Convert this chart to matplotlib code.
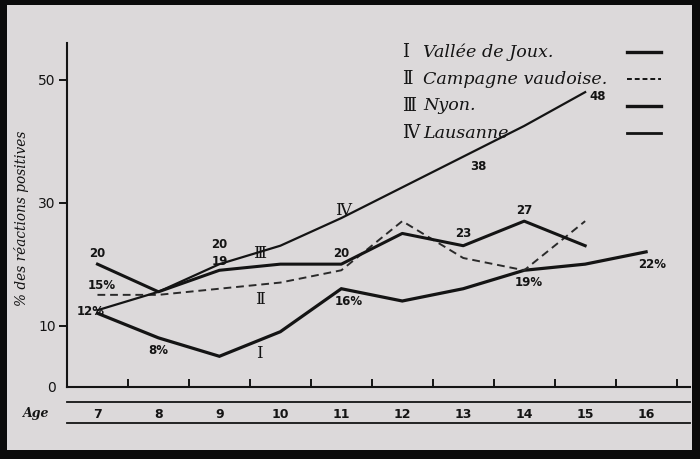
import matplotlib
matplotlib.use("Agg")
import matplotlib.pyplot as plt
from matplotlib.lines import Line2D
from matplotlib.patches import Rectangle

# ---------------- data ----------------
ages = [7, 8, 9, 10, 11, 12, 13, 14, 15, 16]
vallee = [12, 8, 5, 9, 16, 14, 16, 19, 20, 22]          # I  (ages 7-16)
campagne = [15, 15, 16, 17, 19, 27, 21, 19, 27]          # II (ages 7-15)
nyon = [20, 15.5, 19, 20, 20, 25, 23, 27, 23]            # III (ages 7-15)
lausanne = [12.5, 15.5, 20, 23, 27.5, 32.5, 37.5, 42.5, 48]  # IV (ages 7-15)
y_ticks = [0, 10, 30, 50]
numerals = ["Ⅰ", "Ⅱ", "Ⅲ", "Ⅳ"]
names = ["Vallée de Joux.", "Campagne vaudoise.", "Nyon.", "Lausanne"]

# value labels: (text, series, index of age)
label_texts = ["20", "15%", "12%", "8%", "20", "19", "20", "16%",
               "38", "23", "27", "19%", "22%", "48"]
label_series = ["III", "II", "I", "I", "IV", "III", "III", "I",
                "IV", "III", "III", "I", "I", "IV"]
label_idx = [0, 0, 0, 1, 2, 2, 4, 4, 6, 6, 7, 7, 9, 8]

series = {"I": vallee, "II": campagne, "III": nyon, "IV": lausanne}

# ---------------- figure ----------------
W, H = 700, 459
fig = plt.figure(figsize=(7, 4.59), dpi=100, facecolor="#0b0b0b")
paper = Rectangle((7 / W, 1 - 450 / H), (692 - 7) / W, (450 - 5) / H,
                  transform=fig.transFigure, facecolor="#dcd9da",
                  edgecolor="none", zorder=-10)
fig.patches.append(paper)

ax = fig.add_axes([67 / W, 1 - 387 / H, 623 / W, 344 / H])
ax.set_facecolor("none")
ax.set_zorder(1)
ax.set_xlim(6.5, 16.72)
ax.set_ylim(0, 56)
ink = "#141414"

for s in ["top", "right"]:
    ax.spines[s].set_visible(False)
for s in ["left", "bottom"]:
    ax.spines[s].set_linewidth(1.5)
    ax.spines[s].set_color(ink)

# y ticks
ax.set_yticks(y_ticks)
ax.set_yticklabels([str(v) for v in y_ticks], fontsize=10,
                   family="DejaVu Sans", color=ink)
ax.tick_params(axis="y", direction="out", length=6, width=1.4, pad=2, colors=ink)
ax.yaxis.get_major_ticks()[0].tick1line.set_visible(False)

# x ticks: labels at ages in the "Age" row, marks between ages pointing up
ax.set_xticks(ages)
ax.set_xticklabels([str(a) for a in ages], fontsize=9, fontweight="bold",
                   family="DejaVu Sans", color=ink)
ax.tick_params(axis="x", which="major", length=0, pad=15)
ax.set_xticks([a + 0.5 for a in ages], minor=True)
ax.tick_params(axis="x", which="minor", direction="in", length=6, width=1.4,
               colors=ink)

# table lines under the axis
for yy in [(387 - 402) / 344, (387 - 423) / 344]:
    ax.add_line(Line2D([0, 1], [yy, yy], transform=ax.transAxes, color=ink,
                       lw=1.3, clip_on=False))

fig.text(36 / W, 1 - 413 / H, "Age", fontsize=9, style="italic",
         fontweight="bold", family="DejaVu Serif", color=ink,
         ha="center", va="center")

fig.text(22 / W, 1 - 218 / H, "% des réactions positives", rotation=90,
         fontsize=9.8, style="italic", family="DejaVu Serif", color=ink,
         ha="center", va="center")

# ---------------- series ----------------
ax.plot(ages, vallee, color=ink, lw=2.3, solid_joinstyle="miter")
ax.plot(ages[:9], campagne, color="#2a2a2a", lw=1.4, ls=(0, (4, 2.5)))
ax.plot(ages[:9], nyon, color=ink, lw=2.2)
ax.plot(ages[:9], lausanne, color=ink, lw=1.6)

# value labels (offsets in points)
offsets = [(0, 8), (3, 7), (-5, 1), (0, -9), (0, 14), (0, 6), (0, 8), (5, -9),
           (11, -7), (0, 9), (0, 8), (3, -9), (4, -9), (9, -3)]
for t, s, i, off in zip(label_texts, label_series, label_idx, offsets):
    ax.annotate(t, (ages[i], series[s][i]), xytext=off,
                textcoords="offset points", ha="center", va="center",
                fontsize=8.5, fontweight="bold", family="DejaVu Sans",
                color=ink)

# roman numeral markers on the curves
num_pos = [(9.66, 5.4), (9.66, 14.2), (9.66, 21.8), (11.03, 28.8)]
for n, (xx, yy) in zip(numerals, num_pos):
    ax.text(xx, yy, n, fontsize=12, family="DejaVu Serif", color=ink,
            ha="center", va="center")

# ---------------- legend ----------------
rows = [52, 79, 106, 133]
styles = ["-", (0, (2.5, 1.5)), "-", "-"]
widths = [2.4, 1.4, 2.4, 2.0]
for n, name, r, st, lw in zip(numerals, names, rows, styles, widths):
    fig.text(402 / W, 1 - r / H, n, fontsize=13, family="DejaVu Serif",
             color=ink, ha="left", va="center")
    fig.text(423 / W, 1 - r / H, name, fontsize=12.6, style="italic",
             family="DejaVu Serif", color=ink, ha="left", va="center")
    fig.add_artist(Line2D([627 / W, 661 / W], [1 - r / H, 1 - r / H],
                          transform=fig.transFigure, color=ink, lw=lw, ls=st))

fig.savefig("out.png", dpi=100, facecolor=fig.get_facecolor())
